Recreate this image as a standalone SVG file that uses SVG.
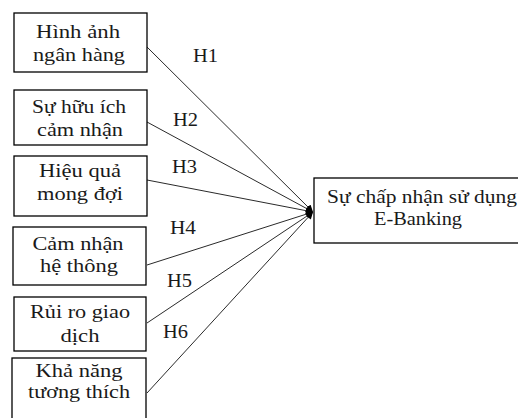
<svg xmlns="http://www.w3.org/2000/svg" width="518" height="418" viewBox="0 0 518 418">
  <style>
    .box { fill: #ffffff; stroke: #000000; stroke-width: 1.3; }
    .link { stroke: #2a2a2a; stroke-width: 1; fill: none; marker-end: url(#arrow); }
  </style>
  <defs>
    <marker id="arrow" viewBox="0 0 10 10" refX="10" refY="5" markerWidth="9" markerHeight="7" markerUnits="userSpaceOnUse" orient="auto">
      <path d="M0,0 L10,5 L0,10 z" fill="#000000"/>
    </marker>
  </defs>
  <rect width="518" height="418" fill="#ffffff"/>

  <!-- connectors with their hypothesis labels -->
  <g id="connectors" font-family="Liberation Serif, Times New Roman, serif" font-size="18" fill="#1a1a1a">
    <line class="link" x1="147" y1="47" x2="313" y2="212"/>
    <line class="link" x1="147" y1="122" x2="313" y2="212"/>
    <line class="link" x1="147" y1="180" x2="313" y2="212"/>
    <line class="link" x1="147" y1="265" x2="313" y2="212"/>
    <line class="link" x1="147" y1="323" x2="313" y2="212"/>
    <line class="link" x1="147" y1="393" x2="313" y2="212"/>
    <text x="193" y="62" textLength="25" lengthAdjust="spacingAndGlyphs">H1</text>
    <text x="173" y="126" textLength="25" lengthAdjust="spacingAndGlyphs">H2</text>
    <text x="172" y="173" textLength="25" lengthAdjust="spacingAndGlyphs">H3</text>
    <text x="170" y="234" textLength="26" lengthAdjust="spacingAndGlyphs">H4</text>
    <text x="167" y="287" textLength="25" lengthAdjust="spacingAndGlyphs">H5</text>
    <text x="163" y="338" textLength="25" lengthAdjust="spacingAndGlyphs">H6</text>
  </g>

  <g font-family="Liberation Serif, Times New Roman, serif" font-size="19" fill="#1a1a1a" text-anchor="middle">
    <g id="node-hinh-anh">
      <rect class="box" x="14" y="13" width="133" height="59"/>
      <text x="78" y="38" textLength="84" lengthAdjust="spacingAndGlyphs">Hình ảnh</text>
      <text x="79" y="61" textLength="92" lengthAdjust="spacingAndGlyphs">ngân hàng</text>
    </g>

    <g id="node-huu-ich">
      <rect class="box" x="14" y="90" width="133" height="55"/>
      <text x="79" y="113" textLength="94" lengthAdjust="spacingAndGlyphs">Sự hữu ích</text>
      <text x="80" y="136" textLength="86" lengthAdjust="spacingAndGlyphs">cảm nhận</text>
    </g>

    <g id="node-hieu-qua">
      <rect class="box" x="14" y="156" width="133" height="60"/>
      <text x="80" y="177" textLength="82" lengthAdjust="spacingAndGlyphs">Hiệu quả</text>
      <text x="80" y="200" textLength="86" lengthAdjust="spacingAndGlyphs">mong đợi</text>
    </g>

    <g id="node-he-thong">
      <rect class="box" x="13" y="227" width="133" height="58"/>
      <text x="78" y="250" textLength="91" lengthAdjust="spacingAndGlyphs">Cảm nhận</text>
      <text x="79" y="272" textLength="78" lengthAdjust="spacingAndGlyphs">hệ thông</text>
    </g>

    <g id="node-rui-ro">
      <rect class="box" x="14" y="297" width="132" height="54"/>
      <text x="80" y="318" textLength="100" lengthAdjust="spacingAndGlyphs">Rủi ro giao</text>
      <text x="80" y="342" textLength="39" lengthAdjust="spacingAndGlyphs">dịch</text>
    </g>

    <g id="node-tuong-thich">
      <rect class="box" x="12" y="358" width="134" height="70"/>
      <text x="79" y="377" textLength="87" lengthAdjust="spacingAndGlyphs">Khả năng</text>
      <text x="79" y="398" textLength="102" lengthAdjust="spacingAndGlyphs">tương thích</text>
    </g>

    <g id="node-chap-nhan">
      <rect class="box" x="314" y="178" width="220" height="65"/>
      <text x="422" y="203" textLength="190" lengthAdjust="spacingAndGlyphs">Sự chấp nhận sử dụng</text>
      <text x="418" y="225" textLength="88" lengthAdjust="spacingAndGlyphs">E-Banking</text>
    </g>
  </g>
</svg>
